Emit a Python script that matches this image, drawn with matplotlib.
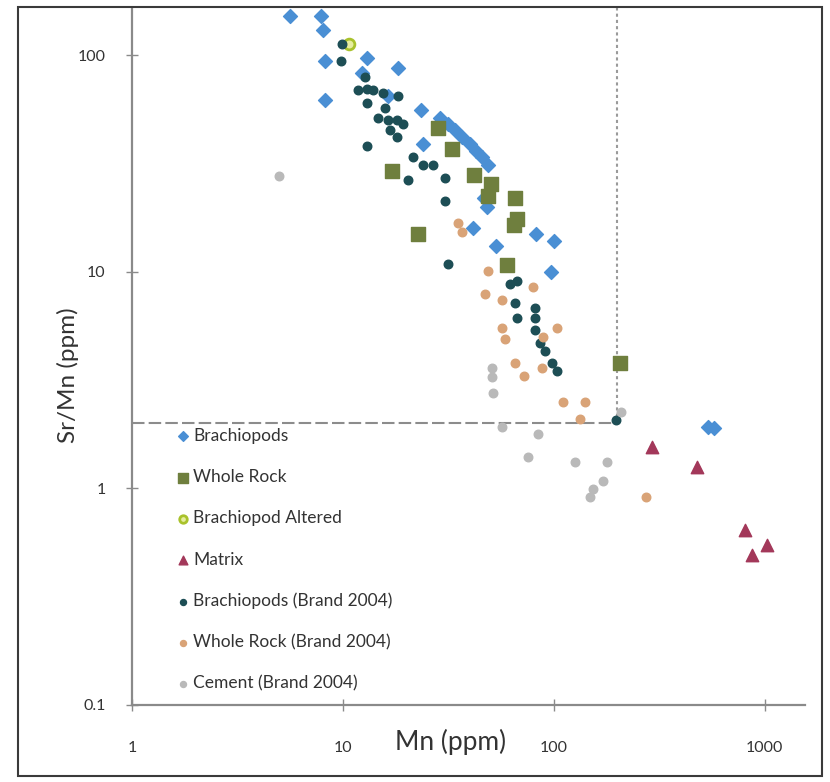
import matplotlib
matplotlib.use("Agg")
import matplotlib.pyplot as plt
from matplotlib.patches import Rectangle

plt.rcParams["font.family"] = ["Lato", "DejaVu Sans"]

# Brachiopods (this study)
brach_mn = [5.6, 7.9, 8.0, 8.2, 8.2, 13.0, 18.2, 12.3, 16.3, 23.4, 23.9, 28.8, 31.4, 34.0,
            36.6, 40.0, 42.7, 45.6, 48.7, 46.6, 48.2, 41.3, 53.1, 82.2, 100, 96.8, 537, 573]
brach_sr = [152, 152, 130, 94, 62, 97, 87, 83, 65, 56, 39, 51, 48, 45,
            42, 39, 36, 34, 31, 22, 20, 16, 13.1, 14.9, 13.8, 10.0, 1.91, 1.89]

# Whole rock
wr_mn = [17.0, 22.7, 28.2, 32.9, 41.8, 50.3, 48.5, 65.3, 65.0, 67.0, 59.8, 205]
wr_sr = [29.3, 15.0, 46.3, 37.0, 28.1, 25.3, 22.3, 22.0, 16.4, 17.6, 10.8, 3.8]

# Brachiopod altered
alt_mn = [10.7]
alt_sr = [113]

# Matrix
mat_mn = [291, 476, 804, 868, 1022]
mat_sr = [1.56, 1.26, 0.64, 0.49, 0.55]

# Brachiopods (Brand 2004)
bb_mn = [9.9, 9.8, 12.7, 11.8, 13.0, 13.9, 15.5, 18.2, 13.0, 15.8, 14.7, 16.3, 18.0, 19.3,
         16.7, 18.0, 13.0, 21.5, 23.9, 26.7, 20.3, 30.4, 30.4, 31.4, 61.9, 66.8, 65.3, 66.8,
         81.3, 81.3, 81.3, 85.9, 90.6, 97.9, 103, 197]
bb_sr = [113, 94, 79, 69, 70, 69, 67, 65, 60, 57, 51, 50, 50, 48,
         45, 42, 38, 34, 31, 31, 26.4, 27, 21.3, 10.9, 8.8, 9.1, 7.2, 6.1,
         6.8, 6.1, 5.4, 4.7, 4.3, 3.8, 3.5, 2.06]

# Whole rock (Brand 2004)
bw_mn = [35.1, 36.6, 48.7, 47.1, 56.7, 79.5, 56.7, 58.6, 103, 88.7, 65.3, 72.1, 87.7,
         110, 140, 133, 273]
bw_sr = [16.7, 15.2, 10.1, 7.9, 7.4, 8.5, 5.5, 4.9, 5.5, 5.0, 3.8, 3.3, 3.6,
         2.5, 2.5, 2.1, 0.91]

# Cement (Brand 2004)
cem_mn = [5.0, 50.8, 50.8, 51.4, 56.7, 84, 75.3, 126, 178, 171, 153, 148, 208]
cem_sr = [27.8, 3.58, 3.25, 2.77, 1.93, 1.79, 1.39, 1.32, 1.33, 1.08, 0.99, 0.91, 2.24]

mn_cutoff = 200
srmn_cutoff = 2

fig = plt.figure(figsize=(8.3, 7.82), dpi=100)
ax = fig.add_axes([132 / 830, 1 - 705 / 782, 673 / 830, 697 / 782])
ax.set_xscale("log")
ax.set_yscale("log")
ax.set_xlim(1, 1550)
ax.set_ylim(0.1, 165)

ax.plot([1, mn_cutoff], [srmn_cutoff, srmn_cutoff], color="#8c8c8c", lw=1.5,
        ls=(0, (6, 2)), zorder=1)
ax.plot([mn_cutoff, mn_cutoff], [srmn_cutoff, 165], color="#9a9a9a", lw=1.5,
        ls=(0, (1.5, 1.5)), zorder=1)

ax.scatter(brach_mn, brach_sr, marker="D", s=50, color="#4a8fd4", label="Brachiopods",
           zorder=3, clip_on=False)
ax.scatter(wr_mn, wr_sr, marker="s", s=95, color="#6f7f3e", label="Whole Rock", zorder=4)
ax.scatter(alt_mn, alt_sr, marker="o", s=60, facecolor="#e6eda0", edgecolor="#a9c22c",
           linewidth=2, label="Brachiopod Altered", zorder=4)
ax.scatter(mat_mn, mat_sr, marker="^", s=80, color="#a3385a", label="Matrix", zorder=4)
ax.scatter(bb_mn, bb_sr, marker="o", s=38, color="#1d4e55", label="Brachiopods (Brand 2004)",
           zorder=5)
ax.scatter(bw_mn, bw_sr, marker="o", s=38, color="#d9a377", label="Whole Rock (Brand 2004)",
           zorder=5)
ax.scatter(cem_mn, cem_sr, marker="o", s=38, color="#b9b9b9", label="Cement (Brand 2004)",
           zorder=5)

for side in ["top", "right"]:
    ax.spines[side].set_visible(False)
for side in ["left", "bottom"]:
    ax.spines[side].set_color("#8a8a8a")
    ax.spines[side].set_linewidth(1.6)

ax.set_xticks([1, 10, 100, 1000])
ax.set_xticklabels(["1", "10", "100", "1000"])
ax.set_yticks([0.1, 1, 10, 100])
ax.set_yticklabels(["0.1", "1", "10", "100"])
ax.minorticks_off()
ax.tick_params(axis="x", direction="inout", length=8, width=1, color="#8a8a8a",
               labelsize=11.5, labelcolor="#333333", pad=22)
ax.tick_params(axis="y", direction="inout", length=8, width=1, color="#8a8a8a",
               labelsize=11.5, labelcolor="#333333", pad=15)

fig.text(451 / 830, 1 - 742 / 782, "Mn (ppm)", fontsize=19, ha="center", va="center",
         color="#333333")
fig.text(68 / 830, 1 - 375 / 782, "Sr/Mn (ppm)", fontsize=17.5, ha="center", va="center",
         rotation=90, color="#333333")

leg = ax.legend(loc="upper left", bbox_to_anchor=(174 / 830, 1 - 428 / 782),
                bbox_transform=fig.transFigure, frameon=False, fontsize=12.5,
                labelspacing=1.45, handletextpad=0.1, handlelength=1.0, borderpad=0,
                borderaxespad=0, markerscale=0.7)
for t in leg.get_texts():
    t.set_color("#333333")

fig.patches.append(Rectangle((18 / 830, 1 - 776 / 782), 804 / 830, 769 / 782,
                             transform=fig.transFigure, fill=False, edgecolor="#3a3a3a",
                             lw=1.5))

fig.savefig("out.png", dpi=100)
